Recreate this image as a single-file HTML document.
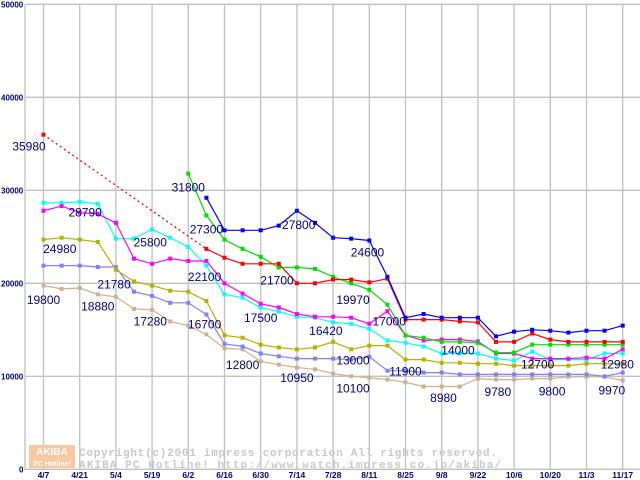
<!DOCTYPE html>
<html><head><meta charset="utf-8"><style>
html,body{margin:0;padding:0;background:#fff;width:640px;height:480px;overflow:hidden}
svg{display:block}
</style></head><body>
<svg id="chart" width="640" height="480" xmlns="http://www.w3.org/2000/svg" font-family="'Liberation Sans', sans-serif"></svg>
<script>
const dateLabels=["4/7","4/21","5/4","5/19","6/2","6/16","6/30","7/14","7/28","8/11","8/25","9/8","9/22","10/6","10/20","11/3","11/17"];
const yTicks=[0,10000,20000,30000,40000,50000];
const redDotted=[[0,35980],[9,23700]];
const redVals=[null,null,null,null,null,null,null,null,null,23700,22750,22100,22100,22100,20000,20000,20400,20400,20100,20500,16100,16100,16100,15900,15800,13700,13700,14600,13950,13700,13700,13700,13700];
const blueVals=[null,null,null,null,null,null,null,null,null,29200,25700,25700,25700,26200,27800,26500,24900,24800,24600,20700,16300,16700,16300,16300,16300,14300,14800,15000,14900,14700,14900,14900,15450];
const greenVals=[null,null,null,null,null,null,null,null,31800,27300,24700,23700,22850,21700,21700,21550,20700,20000,19300,17700,14400,14150,13700,13700,13600,12550,12550,13400,13400,13400,13400,13400,13400];
const magentaVals=[27800,28300,27600,27450,26500,22650,22100,22650,22400,22400,20000,18900,17800,17400,16700,16400,16400,16300,15650,17000,14400,13850,13950,13950,13750,12450,12450,11900,11900,11900,12000,11900,12900];
const cyanVals=[28650,28650,28750,28550,24800,24800,25800,24900,23900,21900,18800,18450,17400,16950,16400,16300,15800,15650,15100,13850,13600,13200,12450,12450,12450,11900,11700,12650,11800,11800,11800,12450,12450];
const oliveVals=[24700,24900,24700,24450,21450,20200,19750,19200,19100,18100,14400,14150,13400,13100,12900,13100,13700,12900,13300,13300,11800,11800,11450,11450,11350,11350,11150,11150,11150,11150,11350,11350,11350];
const lavenderVals=[21900,21900,21900,21750,21750,19100,18650,17900,17900,16650,13500,13200,12450,12150,11900,11900,11900,11800,12100,10600,10600,10400,10400,10200,10200,10200,10200,10200,10200,10200,10200,10000,10400];
const tanVals=[19750,19400,19500,18800,18550,17250,17150,15900,15450,14500,13000,12900,11600,11250,10950,10750,10300,10000,9850,9650,9350,8900,8900,8900,9750,9650,9650,9750,9750,9950,9950,9950,9550];
const seriesNames=["blue","red","green","magenta","cyan","olive","lavender","tan"];
const seriesColors=["#0000ff","#ff0000","#00e000","#ff00ff","#00ffff","#b8b000","#8080ff","#d0b08c"];
const labelTexts=["35980","28790","24980","25800","21780","19800","18880","17280","16700","31800","27300","22100","21700","17500","27800","16420","12800","10950","24600","19970","17000","13000","10100","11900","14000","8980","9780","12700","9800","12980","9970"];
const labelWeeks=[-0.8,2.3,0.9,5.9,3.9,0,3,5.9,8.9,8,9,8.9,12.9,12,14.1,15.6,11,14,17.9,17.1,19.1,17.1,17.1,20,22.9,22.1,25.1,27.3,28.1,31.7,31.4];
const labelVals=[34800,27700,23800,24500,20000,18300,17600,16000,15700,30400,25900,20800,20400,16400,26400,15000,11300,9900,23400,18300,16000,11800,8800,10600,12900,7800,8400,11400,8500,11400,8600];

const svg=document.getElementById('chart');
const NS='http://www.w3.org/2000/svg';
const X=w=>43.5+w*18.1;
const Y=v=>469.3-v*0.0093;
function mk(tag,attrs,parent){const e=document.createElementNS(NS,tag);for(const k in attrs)e.setAttribute(k,attrs[k]);(parent||svg).appendChild(e);return e;}
const grid=mk('g',{});


mk('line',{x1:25,y1:4,x2:25,y2:470,stroke:'#c0c0c0','stroke-width':1.3},grid);
dateLabels.forEach((d,i)=>{
  const x=X(i*2);
  mk('line',{x1:x,y1:4,x2:x,y2:470,stroke:'#c0c0c0','stroke-width':1.3},grid);
  const t=mk('text',{x:x,y:478,'text-anchor':'middle','font-size':8.5,'font-weight':'bold',fill:'#000080'});
  t.textContent=d;
  
  
});
yTicks.forEach(v=>{
  const y=Y(v);
  mk('line',{x1:25,y1:y,x2:640,y2:y,stroke:'#c0c0c0','stroke-width':1.3},grid);
  const t=mk('text',{x:v===0?19:1,y:y+3,'font-size':8,'font-weight':'bold',fill:'#000080'});
  t.textContent=String(v);
  
  
});
const wm=mk('g',{});


mk('rect',{x:29,y:445,width:46,height:23,fill:'#f8c8a0'},wm);
const l1=mk('text',{x:52,y:455,'text-anchor':'middle','font-size':10,'font-weight':'bold',fill:'#fff'},wm);l1.textContent='AKIBA';
const l2=mk('text',{x:52,y:466,'text-anchor':'middle','font-size':7,'font-weight':'bold',fill:'#fff'},wm);l2.textContent='PC Hotline!';
const c1=mk('text',{x:79,y:456,'font-size':11,'font-family':"'Liberation Mono', monospace",fill:'#c8c8c8','font-weight':'bold',textLength:418,lengthAdjust:'spacing'},wm);c1.textContent='Copyright(c)2001 impress corporation All rights reserved.';
const c2=mk('text',{x:79,y:468,'font-size':11,'font-family':"'Liberation Mono', monospace",fill:'#c8c8c8','font-weight':'bold',textLength:422,lengthAdjust:'spacing'},wm);c2.textContent='AKIBA PC Hotline!  http://www.watch.impress.co.jp/akiba/';
const dp=mk('line',{x1:X(redDotted[0][0]),y1:Y(redDotted[0][1]),x2:X(redDotted[1][0]),y2:Y(redDotted[1][1]),stroke:'#ff0000','stroke-width':1.3,'stroke-dasharray':'2,3'});


const dm=mk('rect',{x:X(redDotted[0][0])-2,y:Y(redDotted[0][1])-2,width:4,height:4,fill:'#ff0000'});


const allVals=[blueVals,redVals,greenVals,magentaVals,cyanVals,oliveVals,lavenderVals,tanVals];
for(let s=allVals.length-1;s>=0;s--){
  const vals=allVals[s],col=seriesColors[s];
  const g=mk('g',{});
  
  
  let d='';
  vals.forEach((v,i)=>{if(v==null)return;d+=(d?'L':'M')+X(i).toFixed(1)+','+Y(v).toFixed(1);});
  mk('path',{d:d,fill:'none',stroke:col,'stroke-width':1.2},g);
  vals.forEach((v,i)=>{if(v==null)return;
    const r=mk('rect',{x:X(i)-2,y:Y(v)-2,width:4,height:4,fill:col},g);
    
    
  });
}
labelTexts.forEach((txt,i)=>{
  const t=mk('text',{x:X(labelWeeks[i]),y:Y(labelVals[i])+5,'text-anchor':'middle','font-size':12,fill:'#000080'});
  t.textContent=txt;
  
  
});
</script>
</body></html>
